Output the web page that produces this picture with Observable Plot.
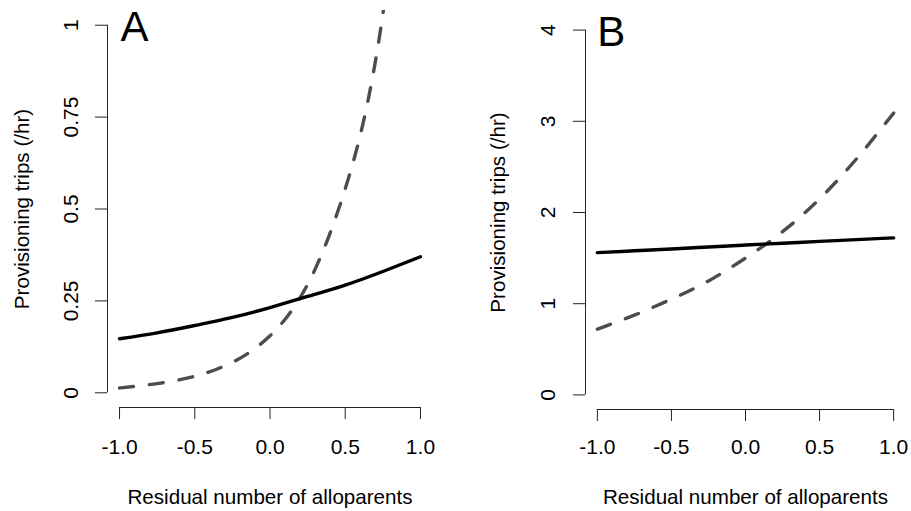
<!DOCTYPE html>
<html>
<head>
<meta charset="utf-8">
<script src="https://cdn.jsdelivr.net/npm/d3@7"></script>
<script src="https://cdn.jsdelivr.net/npm/@observablehq/plot@0.6"></script>
<style>
  html, body { margin: 0; padding: 0; background: #fff; }
  #wrap { display: flex; flex-direction: row; width: 911px; height: 511px; }
  #wrap svg { display: block; }
</style>
</head>
<body>
<div id="wrap"></div>
<script>
// ---- data ----
const xs = [-1, -0.75, -0.5, -0.25, 0, 0.25, 0.5, 0.75, 1];

// Panel A
const aSolid  = [0.147, 0.163, 0.183, 0.205, 0.232, 0.262, 0.293, 0.330, 0.370];
const aDashed = [0.013, 0.025, 0.045, 0.083, 0.155, 0.295, 0.555, 1.03, 1.95];
const aYTicks = [0, 0.25, 0.5, 0.75, 1];
const aYLabels = ["0", "0.25", "0.5", "0.75", "1"];

// Panel B
const bSolid  = [1.560, 1.580, 1.600, 1.622, 1.643, 1.663, 1.683, 1.703, 1.722];
const bDashed = [0.720, 0.875, 1.050, 1.250, 1.500, 1.790, 2.150, 2.590, 3.090];
const bYTicks = [0, 1, 2, 3, 4];
const bYLabels = ["0", "1", "2", "3", "4"];

const xTicks = [-1, -0.5, 0, 0.5, 1];
const xLabels = ["-1.0", "-0.5", "0.0", "0.5", "1.0"];

const xTitle = "Residual number of alloparents";
const yTitle = "Provisioning trips (/hr)";

const FONT = "'Liberation Sans', Arial, Helvetica, sans-serif";

function panel(cfg) {
  const solid = xs.map((x, i) => ({x, y: cfg.solid[i]}));
  const dashed = xs.map((x, i) => ({x, y: cfg.dashed[i]}));
  const yMin = cfg.yTicks[0], yMax = cfg.yTicks[cfg.yTicks.length - 1];
  const pad = (yMax - yMin) * 0.04;
  return Plot.plot({
    width: cfg.width,
    height: 511,
    marginLeft: cfg.ml, marginRight: cfg.mr, marginTop: cfg.mt, marginBottom: cfg.mb,
    style: {fontFamily: FONT, background: "#fff", color: "#000", overflow: "visible"},
    x: {domain: [-1.08, 1.08], axis: null},
    y: {domain: [yMin - pad, yMax + pad], axis: null},
    marks: [
      // axis lines (R style, from first to last tick)
      Plot.ruleX([-1.08], {y1: yMin, y2: yMax, stroke: "#222", strokeWidth: 1}),
      Plot.ruleY([yMin - pad], {x1: -1, x2: 1, stroke: "#222", strokeWidth: 1}),
      Plot.axisY({ticks: cfg.yTicks, tickSize: 12, tickFormat: () => "", label: null, stroke: "#222"}),
      Plot.axisX({ticks: xTicks, tickSize: 12, tickFormat: () => "", label: null, stroke: "#222"}),
      // tick labels
      Plot.text(cfg.yTicks, {x: -1.08, y: d => d, text: (d, i) => cfg.yLabels[i], rotate: -90,
        textAnchor: "middle", lineAnchor: "middle", dx: cfg.ylabDx, fontSize: 21, fill: "#000"}),
      Plot.text(xTicks, {x: d => d, y: yMin - pad, text: (d, i) => xLabels[i],
        textAnchor: "middle", lineAnchor: "middle", dy: cfg.xlabDy, fontSize: 21, fill: "#000"}),
      // axis titles
      Plot.text([yTitle], {frameAnchor: "left", rotate: -90, textAnchor: "middle", lineAnchor: "middle",
        dx: cfg.ytitleDx, fontSize: 20.6, fill: "#000"}),
      Plot.text([xTitle], {frameAnchor: "bottom", textAnchor: "middle", lineAnchor: "middle",
        dy: cfg.xtitleDy, fontSize: 20.6, fill: "#000"}),
      // panel letter
      Plot.text([cfg.letter], {frameAnchor: "top-left", textAnchor: "start", lineAnchor: "middle",
        dx: cfg.letterDx, dy: 16.6, fontSize: 42, fill: "#000"}),
      // curves
      Plot.line(dashed, {x: "x", y: "y", curve: "natural", clip: true, stroke: "#4d4d4d",
        strokeWidth: 3.4, strokeDasharray: "14,16", strokeLinecap: "round"}),
      Plot.line(solid, {x: "x", y: "y", curve: "natural", clip: true, stroke: "#000",
        strokeWidth: 3.4, strokeLinecap: "round"})
    ]
  });
}

const wrap = document.getElementById("wrap");
wrap.appendChild(panel({
  width: 455, ml: 107, mr: 23, mt: 10, mb: 104,
  solid: aSolid, dashed: aDashed, yTicks: aYTicks, yLabels: aYLabels,
  ylabDx: -36, ytitleDx: -85.2, xlabDy: 39.6, xtitleDy: 89.6, letter: "A", letterDx: 13
}));
wrap.appendChild(panel({
  width: 456, ml: 130, mr: 6, mt: 15, mb: 102,
  solid: bSolid, dashed: bDashed, yTicks: bYTicks, yLabels: bYLabels,
  ylabDx: -37, ytitleDx: -87.4, xlabDy: 37.6, xtitleDy: 87.6, letter: "B", letterDx: 11.7
}));
</script>
</body>
</html>
